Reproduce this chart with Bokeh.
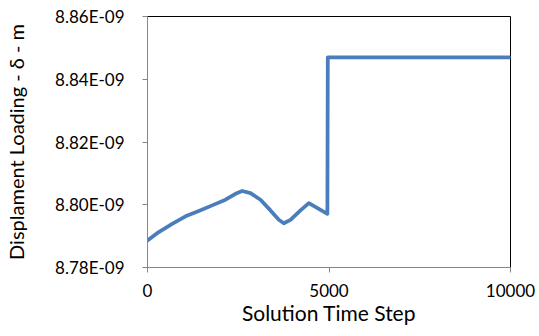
from bokeh.plotting import figure
from bokeh.models import FixedTicker, CustomJSTickFormatter, Range1d
from bokeh.embed import file_html
from bokeh.resources import INLINE

# Displacement loading history over the solution time steps
time_step = [0, 311, 680, 1047, 1413, 1782, 2149, 2424, 2609, 2837,
             3113, 3388, 3617, 3755, 3939, 4215, 4444, 4719, 4955,
             4967, 10000]
displacement = [8.7886e-9, 8.7913e-9, 8.7939e-9, 8.7963e-9, 8.7980e-9,
                8.7998e-9, 8.8016e-9, 8.8035e-9, 8.8044e-9, 8.8037e-9,
                8.8016e-9, 8.7982e-9, 8.7952e-9, 8.7941e-9, 8.7952e-9,
                8.7982e-9, 8.8005e-9, 8.7987e-9, 8.7971e-9,
                8.8470e-9, 8.8470e-9]

x_ticks = [0, 5000, 10000]
y_ticks = [8.78e-9, 8.80e-9, 8.82e-9, 8.84e-9, 8.86e-9]

FONT = "Lato"
GREY = "#868686"

p = figure(width=539, height=336, output_backend="svg", toolbar_location=None,
           x_range=Range1d(0, 10000), y_range=Range1d(8.78e-9, 8.86e-9),
           min_border_left=147, min_border_right=29, min_border_top=16,
           min_border_bottom=69)

p.line(time_step, displacement, line_color="#4A7EBB", line_width=3.75,
       line_join="round", line_cap="round")

p.xgrid.visible = False
p.ygrid.visible = False
p.outline_line_color = "black"
p.outline_line_width = 1

p.xaxis.ticker = FixedTicker(ticks=x_ticks)
p.yaxis.ticker = FixedTicker(ticks=y_ticks)
p.yaxis.formatter = CustomJSTickFormatter(code="""
    const parts = tick.toExponential(2).split('e');
    const e = parseInt(parts[1]);
    const sign = e < 0 ? '-' : '+';
    return parts[0] + 'E' + sign + String(Math.abs(e)).padStart(2, '0');
""")

for ax in (p.xaxis, p.yaxis):
    ax.axis_line_color = GREY
    ax.axis_line_width = 1
    ax.major_tick_line_color = GREY
    ax.major_tick_in = 0
    ax.major_tick_out = 5
    ax.minor_tick_line_color = None
    ax.major_label_text_font = FONT
    ax.major_label_text_font_size = "17px"
    ax.major_label_text_color = "black"
    ax.axis_label_text_font = FONT
    ax.axis_label_text_font_style = "normal"
    ax.axis_label_text_color = "black"

p.xaxis.axis_label = "Solution Time Step"
p.yaxis.axis_label = "Displament Loading - δ - m"
p.xaxis.axis_label_text_font_size = "21px"
p.yaxis.axis_label_text_font_size = "20px"
p.xaxis.major_label_standoff = 11
p.xaxis.axis_label_standoff = 0
p.yaxis.major_label_standoff = 18
p.yaxis.axis_label_standoff = 24

open("out.html", "w").write(file_html(p, INLINE))
